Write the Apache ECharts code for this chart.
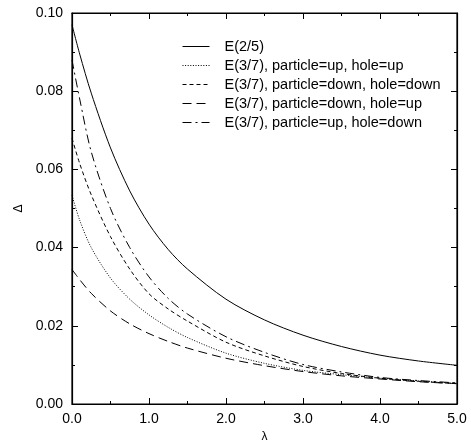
<!DOCTYPE html>
<html>
<head>
<meta charset="utf-8">
<script src="https://cdn.jsdelivr.net/npm/echarts@6/dist/echarts.min.js"></script>
<style>html,body{margin:0;padding:0;background:#fff}#c{width:471px;height:448px}</style>
</head>
<body>
<div id="c"></div>
<script>
const lambda = [0, 0.1, 0.25, 0.5, 0.75, 1.0, 1.25, 1.5, 2.0, 2.5, 3.0, 3.5, 4.0, 4.5, 5.0];
const e25      = [0.097, 0.0895, 0.0795, 0.0655, 0.0545, 0.0460, 0.0395, 0.0345, 0.0268, 0.0215, 0.0176, 0.0147, 0.0125, 0.0110, 0.0099];
const upUp     = [0.0534, 0.0470, 0.0400, 0.0322, 0.0268, 0.0228, 0.0196, 0.0170, 0.0130, 0.0104, 0.0086, 0.0075, 0.0066, 0.0059, 0.0053];
const downDown = [0.068, 0.0615, 0.0535, 0.0428, 0.0345, 0.0282, 0.0243, 0.0212, 0.0158, 0.0123, 0.0096, 0.0078, 0.0066, 0.0058, 0.0052];
const downUp   = [0.0344, 0.0318, 0.0283, 0.0238, 0.0205, 0.0180, 0.0160, 0.0143, 0.0117, 0.0098, 0.0083, 0.0072, 0.0064, 0.0057, 0.0052];
const upDown   = [0.088, 0.0780, 0.0645, 0.0500, 0.0400, 0.0325, 0.0270, 0.0230, 0.0172, 0.0132, 0.0101, 0.0082, 0.0068, 0.0060, 0.0054];
const seriesNames = ['E(2/5)', 'E(3/7), particle=up, hole=up', 'E(3/7), particle=down, hole=down', 'E(3/7), particle=down, hole=up', 'E(3/7), particle=up, hole=down'];
const xTickLabels = ['0.0', '1.0', '2.0', '3.0', '4.0', '5.0'];
const yTickLabels = ['0.00', '0.02', '0.04', '0.06', '0.08', '0.10'];
const xName = 'λ', yName = 'Δ';

const values = [e25, upUp, downDown, downUp, upDown];
const dashes = ['solid', [1, 1.6], [4, 3], [9, 5], [9, 4, 2, 4]];
const font = 'Liberation Sans, Arial, Helvetica, sans-serif';

function axisCommon(showLabel) {
  return {
    show: true,
    axisLine: { show: true, onZero: false, lineStyle: { color: '#000', width: 1.2 } },
    axisTick: { show: true, inside: true, length: 6, lineStyle: { color: '#000', width: 1 } },
    minorTick: { show: true, splitNumber: 2, length: 3, lineStyle: { color: '#000', width: 1 } },
    splitLine: { show: false },
    axisLabel: { show: showLabel, color: '#000', fontSize: 14, fontFamily: font }
  };
}

const series = values.map((arr, i) => ({
  name: seriesNames[i],
  type: 'line',
  xAxisIndex: 0, yAxisIndex: 0,
  data: lambda.map((x, j) => [x, arr[j]]),
  showSymbol: false,
  symbol: 'none',
  smooth: 0.3,
  lineStyle: { color: '#000', width: 1, type: dashes[i] },
  itemStyle: { color: '#000' }
}));
// invisible companion series so the mirrored top/right axes are rendered
series.push({
  name: 'mirror', type: 'line', xAxisIndex: 1, yAxisIndex: 1, silent: true,
  data: lambda.map((x, j) => [x, e25[j]]), showSymbol: false, symbol: 'none',
  lineStyle: { opacity: 0 }, itemStyle: { opacity: 0 }
});

const chart = echarts.init(document.getElementById('c'), null, { renderer: 'canvas' });
chart.setOption({
  animation: false,
  backgroundColor: '#fff',
  grid: { left: 72, right: 14, top: 13, bottom: 40, show: true, borderColor: '#000', borderWidth: 1.2, backgroundColor: 'transparent' },
  legend: {
    orient: 'vertical',
    left: 177,
    top: 34,
    itemWidth: 27,
    itemHeight: 10,
    itemGap: 4,
    itemStyle: { opacity: 0 },
    lineStyle: { width: 1 },
    textStyle: { color: '#000', fontSize: 14.5, fontFamily: font, padding: [0, 0, 0, 10] },
    data: seriesNames
  },
  xAxis: [
    Object.assign(axisCommon(true), {
      type: 'value', min: 0, max: 5, interval: 1, position: 'bottom',
      name: xName, nameLocation: 'middle', nameGap: 27,
      nameTextStyle: { color: '#000', fontSize: 12, fontFamily: font },
      axisLabel: { show: true, color: '#000', fontSize: 14, fontFamily: font, margin: 8,
        formatter: v => xTickLabels[Math.round(v)] }
    }),
    Object.assign(axisCommon(false), { type: 'value', min: 0, max: 5, interval: 1, position: 'top' })
  ],
  yAxis: [
    Object.assign(axisCommon(true), {
      type: 'value', min: 0, max: 0.1, interval: 0.02, position: 'left',
      name: yName, nameLocation: 'middle', nameGap: 47, nameRotate: 90,
      nameTextStyle: { color: '#000', fontSize: 12, fontFamily: font },
      axisLabel: { show: true, color: '#000', fontSize: 14, fontFamily: font, margin: 9,
        formatter: v => yTickLabels[Math.round(v / 0.02)] }
    }),
    Object.assign(axisCommon(false), { type: 'value', min: 0, max: 0.1, interval: 0.02, position: 'right' })
  ],
  series: series
});
</script>
</body>
</html>
